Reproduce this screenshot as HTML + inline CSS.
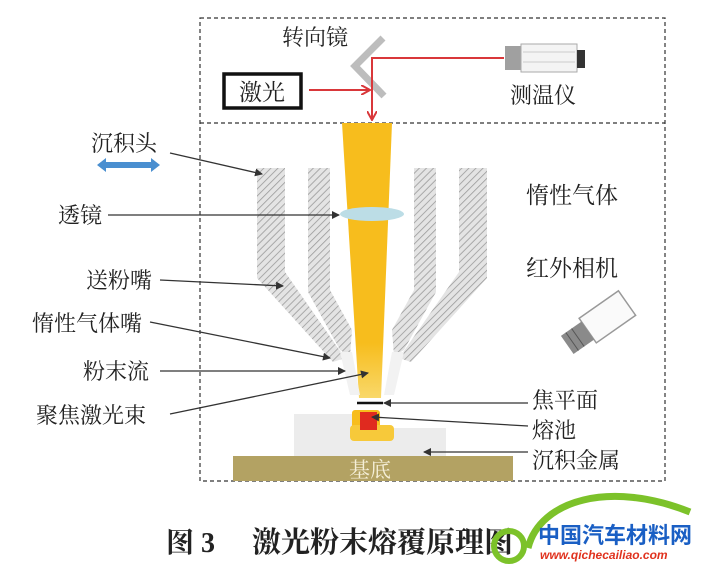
<!DOCTYPE html>
<html><head><meta charset="utf-8"><style>
html,body{margin:0;padding:0;background:#fff;}
svg{display:block;}
text{font-family:"Liberation Serif","Noto Serif CJK SC",serif;fill:#222;}
</style></head><body>
<svg width="703" height="567" viewBox="0 0 703 567" xmlns="http://www.w3.org/2000/svg">
<defs>
<pattern id="h" width="5" height="5" patternUnits="userSpaceOnUse" patternTransform="rotate(45)">
<rect width="5" height="5" fill="#e4e4e4"/><line x1="0" y1="0" x2="0" y2="5" stroke="#9a9a9a" stroke-width="1.6"/></pattern>
<marker id="a" markerWidth="8" markerHeight="8" refX="7" refY="4" orient="auto" markerUnits="userSpaceOnUse"><path d="M0,0 L8,4 L0,8 Z" fill="#333"/></marker>
<marker id="r" markerWidth="10" markerHeight="10" refX="9" refY="5" orient="auto" markerUnits="userSpaceOnUse"><path d="M0,0 L9,5 L0,10" fill="none" stroke="#d9373a" stroke-width="2"/></marker>
<linearGradient id="beam" x1="0" y1="0" x2="0" y2="1"><stop offset="0.8" stop-color="#f7bd1d"/><stop offset="1" stop-color="#f9d86a"/></linearGradient>
</defs>
<rect x="200" y="18" width="465" height="463" fill="none" stroke="#333" stroke-width="1.2" stroke-dasharray="4,3"/>
<line x1="200" y1="123" x2="665" y2="123" stroke="#333" stroke-width="1.2" stroke-dasharray="4,3"/>
<text x="282" y="45" font-size="22">转向镜</text>
<rect x="224" y="74" width="77" height="34" fill="#fff" stroke="#111" stroke-width="3.5"/>
<text x="239" y="100" font-size="23">激光</text>
<path d="M383,38 L355,66 L384,96" fill="none" stroke="#bdbdbd" stroke-width="7"/>
<line x1="309" y1="90" x2="370" y2="90" stroke="#d9373a" stroke-width="2" marker-end="url(#r)"/>
<polyline points="504,58 372,58 372,120" fill="none" stroke="#d9373a" stroke-width="2" marker-end="url(#r)"/>
<rect x="505" y="46" width="18" height="24" fill="#a0a0a0"/>
<rect x="521" y="44" width="56" height="28" fill="#f4f4f4" stroke="#aaa"/>
<line x1="523" y1="52" x2="575" y2="52" stroke="#ccc"/><line x1="523" y1="62" x2="575" y2="62" stroke="#ccc"/>
<rect x="577" y="50" width="8" height="18" fill="#333"/>
<text x="510" y="103" font-size="22">测温仪</text>
<polygon points="342,123 392,123 381,398 359,398" fill="url(#beam)"/>
<ellipse cx="372" cy="214" rx="32" ry="7" fill="#bcdde6"/>
<path d="M257,168 L285,168 L285,272 L345,358 L333,362 L257,278 Z" fill="url(#h)"/>
<path d="M308,168 L330,168 L330,290 L352,330 L350,356 L340,350 L308,292 Z" fill="url(#h)"/>
<path d="M487,168 L459,168 L459,272 L399,358 L411,362 L487,278 Z" fill="url(#h)"/>
<path d="M436,168 L414,168 L414,290 L392,330 L394,356 L404,350 L436,292 Z" fill="url(#h)"/>
<polygon points="340,352 352,352 360,395 350,395" fill="#f2f2f2"/>
<polygon points="404,352 392,352 384,395 394,395" fill="#f2f2f2"/>
<rect x="294" y="414" width="80" height="42" fill="#ececec"/>
<rect x="374" y="428" width="72" height="28" fill="#ececec"/>
<rect x="352" y="410" width="28" height="30" fill="#f7bd1d" rx="3"/>
<rect x="350" y="425" width="44" height="16" fill="#f7c93a" rx="4"/>
<rect x="360" y="412" width="17" height="18" fill="#e02a1f"/>
<line x1="357" y1="403" x2="383" y2="403" stroke="#111" stroke-width="2.5"/>
<rect x="233" y="456" width="280" height="25" fill="#b3a263"/>
<text x="349" y="477" font-size="21" style="fill:#f5efd8">基底</text>
<text x="91" y="151" font-size="22">沉积头</text>
<path d="M97,165 L106,158 L106,162 L151,162 L151,158 L160,165 L151,172 L151,168 L106,168 L106,172 Z" fill="#4a8fd0"/>
<text x="58" y="223" font-size="22">透镜</text>
<text x="86" y="288" font-size="22">送粉嘴</text>
<text x="32" y="331" font-size="22">惰性气体嘴</text>
<text x="83" y="379" font-size="22">粉末流</text>
<text x="36" y="423" font-size="22">聚焦激光束</text>
<g stroke="#333" stroke-width="1.3" fill="none" marker-end="url(#a)">
<line x1="170" y1="153" x2="262" y2="174"/>
<line x1="108" y1="215" x2="339" y2="215"/>
<line x1="160" y1="280" x2="283" y2="286"/>
<line x1="150" y1="322" x2="330" y2="358"/>
<line x1="160" y1="371" x2="345" y2="371"/>
<line x1="170" y1="414" x2="368" y2="373"/>
<line x1="528" y1="403" x2="384" y2="403"/>
<line x1="528" y1="426" x2="372" y2="417"/>
<line x1="528" y1="452" x2="424" y2="452"/>
</g>
<text x="526" y="203" font-size="23">惰性气体</text>
<text x="526" y="276" font-size="23">红外相机</text>
<g transform="translate(600,322) rotate(-35)">
<rect x="-15" y="-15" width="48" height="30" fill="#fafafa" stroke="#999" stroke-width="1.5"/>
<rect x="-40" y="-11" width="25" height="22" fill="#8a8a8a"/>
<line x1="-34" y1="-11" x2="-34" y2="11" stroke="#555"/><line x1="-27" y1="-11" x2="-27" y2="11" stroke="#555"/>
</g>
<text x="532" y="408" font-size="22">焦平面</text>
<text x="532" y="438" font-size="22">熔池</text>
<text x="532" y="468" font-size="22">沉积金属</text>
<text x="166" y="552" font-size="28" font-weight="bold">图 3</text>
<text x="252" y="552" font-size="29" font-weight="bold">激光粉末熔覆原理图</text>
<path d="M528,548 C540,500 610,480 690,512" fill="none" stroke="#7cc22a" stroke-width="7"/>
<circle cx="509" cy="546" r="15" fill="none" stroke="#7cc22a" stroke-width="6"/>
<text x="538" y="543" font-size="22" font-weight="bold" style="fill:#1a5fc4;font-family:'Liberation Sans','Noto Sans CJK SC',sans-serif">中国汽车材料网</text>
<text x="540" y="559" font-size="12" font-weight="bold" font-style="italic" style="fill:#e0321e;font-family:'Liberation Sans',sans-serif">www.qichecailiao.com</text>
</svg>
</body></html>
